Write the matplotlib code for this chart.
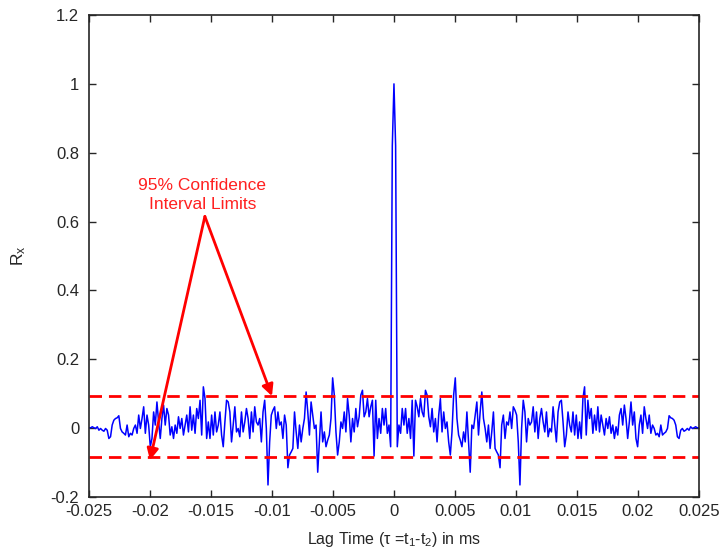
import numpy as np
import matplotlib
matplotlib.use('Agg')
import matplotlib.pyplot as plt

plt.rcParams['font.family'] = ['Liberation Sans', 'DejaVu Sans']
plt.rcParams['mathtext.fontset'] = 'custom'
plt.rcParams['mathtext.rm'] = 'Liberation Sans'
plt.rcParams['mathtext.it'] = 'Liberation Sans'

# autocorrelation, lag 0 -> 0.025 ms (symmetric about 0)
rx_right = [
    1.0, 0.82,
    -0.054, 0.009, -0.015, 0.057, 0.009, 0.057, -0.015, 0.028, -0.030, 0.081,
    -0.081, 0.081, 0.062, 0.033, 0.086, 0.047, 0.033, 0.110, 0.096, 0.033,
    0.004, 0.057, -0.011, 0.028, -0.040, 0.038, 0.086, -0.011, 0.047, -0.001,
    0.018, -0.040, -0.078, -0.011, 0.096, 0.146, 0.028, -0.020, -0.035, -0.054,
    -0.011, -0.040, 0.047, -0.040, -0.128, 0.009,
    -0.001, 0.038, 0.076, -0.020, 0.047, 0.105, 0.028, -0.001, -0.040, 0.009,
    -0.059, -0.011, 0.047, -0.059, -0.069, -0.078, -0.115, 0.009, 0.038, -0.030,
    0.018, 0.009, 0.047, -0.001, 0.062, 0.052, 0.038, -0.040, -0.165, -0.001,
    0.081, 0.047, -0.040, 0.028, 0.009, 0.018, 0.062, -0.011, 0.047, -0.030,
    0.028, 0.057, 0.018, -0.011, 0.047, -0.025, -0.001,
    -0.011, 0.062, 0.009, -0.040, 0.047, 0.076, 0.081, 0.018, -0.054, -0.020,
    0.047, 0.009, -0.011, 0.047, -0.020, 0.038, -0.030, 0.018, -0.030, 0.086,
    0.120, -0.020, 0.081, 0.028, 0.057, -0.015, 0.038, -0.006, 0.062, -0.011,
    0.038, 0.009, -0.020, 0.028, -0.001, 0.033, -0.015, 0.009, -0.030, 0.004,
    -0.020, 0.038, 0.057, 0.009, 0.067, 0.028, -0.030,
    0.018, 0.076, 0.009, 0.047, -0.030, -0.054, 0.009, 0.038, -0.015, 0.062,
    0.028, -0.001, 0.038, -0.015, 0.009, -0.001, -0.020, -0.015, -0.025, 0.009,
    -0.020, -0.015, -0.011, -0.001, 0.036, 0.030, 0.028, 0.023, 0.009, -0.025,
    -0.030, -0.006, -0.001, -0.009, -0.006, -0.001, -0.006, 0.004, -0.001, 0.001,
    0.004, 0.001, 0.001,
]
conf_upper = 0.093
conf_lower = -0.084

rx_right = np.array(rx_right)
lag_right = np.linspace(0, 0.025, len(rx_right))
lag = np.concatenate([-lag_right[::-1], lag_right[1:]])
rx = np.concatenate([rx_right[::-1], rx_right[1:]])

fig = plt.figure(figsize=(7.24, 5.54), dpi=100)
ax = fig.add_axes([0.1229, 0.1029, 0.8425, 0.870])

ax.plot(lag, rx, color='#0000FF', lw=1.1)
ax.axhline(conf_upper, color='#FF0000', lw=2, ls=(0, (4.5, 2.5)))
ax.axhline(conf_lower, color='#FF0000', lw=2, ls=(0, (4.5, 2.5)))

# annotation with two arrows
ax.text(-0.0157, 0.678, '95% Confidence\nInterval Limits', color='#FF2020',
        fontsize=12.5, ha='center', va='center', linespacing=1.3)
arrow = dict(arrowstyle='-|>', color='#FF0000', lw=2, mutation_scale=17,
             shrinkA=0, shrinkB=0)
ax.annotate('', xy=(-0.0200, -0.093), xytext=(-0.0155, 0.615), arrowprops=arrow)
ax.annotate('', xy=(-0.0100, 0.093), xytext=(-0.0155, 0.615), arrowprops=arrow)

ax.set_xlim(-0.025, 0.025)
ax.set_ylim(-0.2, 1.2)
ax.set_xticks(np.arange(-0.025, 0.0251, 0.005))
ax.set_xticklabels(['-0.025', '-0.02', '-0.015', '-0.01', '-0.005', '0',
                    '0.005', '0.01', '0.015', '0.02', '0.025'])
ax.set_yticks(np.arange(-0.2, 1.21, 0.2))
ax.set_yticklabels(['-0.2', '0', '0.2', '0.4', '0.6', '0.8', '1', '1.2'])
ax.tick_params(direction='in', top=True, right=True, labelsize=12,
               length=5, width=1, colors='#262626', labelcolor='#262626')
ax.tick_params(axis='x', pad=5)
ax.tick_params(axis='y', pad=7)
for s in ax.spines.values():
    s.set_color('#262626')
    s.set_linewidth(1.2)

ax.set_xlabel('Lag Time (\u03c4 =t$_1$-t$_2$) in ms', fontsize=11.5, color='#262626', labelpad=8)
ax.set_ylabel('R$_x$', fontsize=12.5, color='#262626', labelpad=16)

fig.savefig('out.png', dpi=100)
